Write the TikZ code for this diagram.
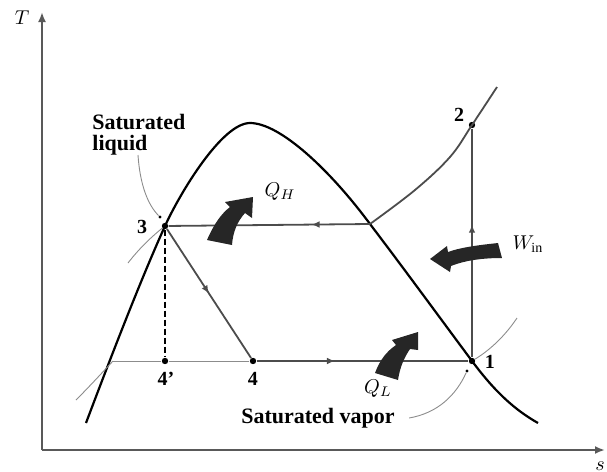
\documentclass[tikz,border=0pt]{standalone}
\usepackage{fontspec}
\setmainfont{Liberation Serif}
\usetikzlibrary{arrows.meta,decorations.markings}
\tikzset{
  >={Latex[length=2.2mm]},
  axis/.style={line width=1pt,black!65,-{Latex[length=5pt,width=4pt]}},
  axlbl/.style={font=\fontsize{10}{12}\selectfont,inner sep=1pt},
  dome/.style={line width=1.1pt,black},
  cyc/.style={line width=0.9pt,black!70},
  thinln/.style={line width=0.45pt,black!45},
  dashln/.style={line width=0.6pt,black,dash pattern=on 3pt off 1.5pt},
  ptdot/.style={circle,fill=black,inner sep=0pt,minimum size=3.2pt},
  tickdot/.style={circle,fill=black,inner sep=0pt,minimum size=1.6pt},
  ptlbl/.style={font=\bfseries\fontsize{10}{12}\selectfont,inner sep=1pt},
  satlbl/.style={font=\bfseries\fontsize{11}{10.5}\selectfont,inner sep=1pt},
  heatlbl/.style={font=\fontsize{10}{12}\selectfont,inner sep=1pt},
  heat/.style={fill=black!85,draw=none},
  midarr/.style={postaction={decorate},decoration={markings,
    mark=at position #1 with {\arrow{Latex[length=4pt,width=3.4pt]}}}},
}
\begin{document}
\begin{tikzpicture}[x=0.5pt,y=-0.5pt]
  \useasboundingbox (0,0) rectangle (607,472);
  % axes
  \coordinate (orig) at (42,450);
  \coordinate (tmax) at (42,12);
  \coordinate (smax) at (605,450);
  \draw[axis] (orig) -- (tmax);
  \draw[axis] (orig) -- (smax);
  \node[axlbl] (tlbl) at (22,18) {$T$};
  \node[axlbl] (slbl) at (600,466) {$s$};

  % states
  \coordinate (hv) at (370,224);
  \coordinate (lowl) at (113,361);
  \coordinate (peak) at (250,123);
  \node[ptdot] (p1) at (472,361) {};
  \node[ptdot] (p2) at (472,125) {};
  \node[ptdot] (p3) at (165,226) {};
  \node[ptdot] (p4) at (253,361) {};
  \node[ptdot] (p4p) at (165,361) {};

  % saturation dome
  \draw[dome] (86,423) .. controls (118,338) and (145,270) .. (p3.center)
    .. controls (180,193) and (222,123) .. (peak)
    .. controls (280,123) and (330,170) .. (hv)
    .. controls (405,270) and (440,318) .. (p1.center)
    .. controls (495,392) and (515,410) .. (538,423);

  % cycle
  \draw[cyc] plot[smooth,tension=0.6] coordinates {(370,224) (415,190)
    (450,157) (472,125) (497,87)};
  \draw[cyc,midarr=0.58] (p1) -- (p2);
  \draw[cyc,midarr=0.29] (hv) -- (p3);
  \draw[cyc,midarr=0.5] (p3) -- (p4);
  \draw[cyc,midarr=0.37] (p4) -- (p1);
  \draw[thinln] (lowl) -- (p4p);
  \draw[thinln] (p4p) -- (p4);
  \draw[dashln] (p3) -- (p4p);

  % isobars outside the dome
  \draw[thinln] (lowl) .. controls (100,375) and (88,388) .. (76,400);
  \draw[thinln] (p3) .. controls (150,238) and (138,250) .. (128,263);
  \draw[thinln] (p1) .. controls (490,350) and (505,336) .. (517,318);

  \node[ptlbl] (l1) at (490,362) {1};
  \node[ptlbl] (l2) at (459,115) {2};
  \node[ptlbl] (l3) at (142,227) {3};
  \node[ptlbl] (l4) at (253,379) {4};
  \node[ptlbl] (l4p) at (166,379) {4'};

  % saturation labels
  \node[satlbl,align=left,anchor=north west] (satliq) at (90,112) {Saturated\\liquid};
  \node[tickdot] (tipliq) at (160,217) {};
  \draw[thinln] (138,155) .. controls (140,185) and (148,205) .. (tipliq);
  \node[satlbl] (satvap) at (318,418) {Saturated vapor};
  \node[tickdot] (tipvap) at (467,371) {};
  \draw[thinln] ([xshift=6pt]satvap.east) .. controls (438,413) and (456,395) .. (tipvap);

  % heat and work
  \fill[heat] (207,240) .. controls (214,224) and (221,214) .. (230,207)
    -- (225,202) -- (253,197) -- (252,218) -- (245,213)
    .. controls (237,222) and (233,232) .. (232,245) -- cycle;
  \node[heatlbl] (qh) at (280,192) {$Q_H$};
  \fill[heat] (375,373) .. controls (380,360) and (386,352) .. (396,345)
    -- (392,340) -- (418,332) -- (418,350) -- (410,349)
    .. controls (404,358) and (400,367) .. (398,380) -- cycle;
  \node[heatlbl] (ql) at (378,389) {$Q_L$};
  \fill[heat] (498,243) .. controls (480,245) and (462,247) .. (448,252)
    -- (447,246) -- (430,259) -- (450,272) -- (451,266)
    .. controls (466,260) and (484,258) .. (502,258) -- cycle;
  \node[heatlbl] (win) at (528,244) {$W_{\mathrm{in}}$};
\end{tikzpicture}
\end{document}
